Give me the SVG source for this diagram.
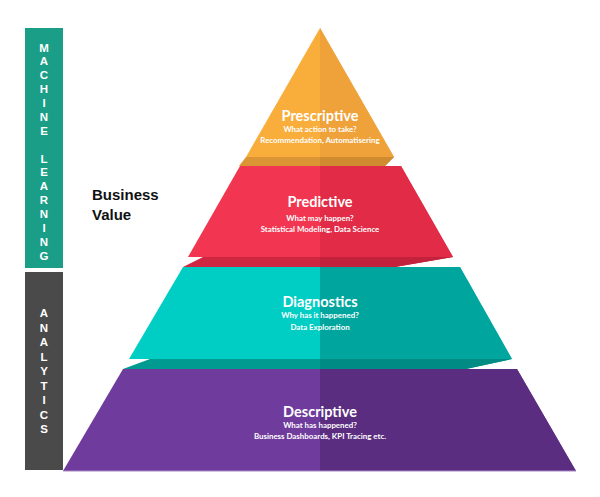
<svg xmlns="http://www.w3.org/2000/svg" width="600" height="497" viewBox="0 0 600 497">
<style>
.title{font-family:"Lato","Liberation Sans",sans-serif;font-weight:700;font-size:14.5px;fill:#fff;text-anchor:middle}
.sub{font-family:"Lato","Liberation Sans",sans-serif;font-weight:700;font-size:7.9px;fill:#fff;text-anchor:middle}
.side{font-family:"Liberation Sans","DejaVu Sans",sans-serif;font-weight:700;font-size:11.5px;fill:#fff;text-anchor:middle}
.bv{font-family:"Liberation Sans","DejaVu Sans",sans-serif;font-weight:700;font-size:15px;fill:#111}
</style>
<defs>
<clipPath id="right"><rect x="320" y="0" width="300" height="497"/></clipPath>
</defs>
<rect width="600" height="497" fill="#fff"/>

<g id="sidebar-ml">
<rect x="25" y="28" width="38" height="240" fill="#1A9E87"/>
<text class="side" x="44" y="51.5">M</text>
<text class="side" x="44" y="65.4">A</text>
<text class="side" x="44" y="79.2">C</text>
<text class="side" x="44" y="93.1">H</text>
<text class="side" x="44" y="107">I</text>
<text class="side" x="44" y="120.9">N</text>
<text class="side" x="44" y="134.7">E</text>
<text class="side" x="44" y="162.5">L</text>
<text class="side" x="44" y="176.3">E</text>
<text class="side" x="44" y="190.2">A</text>
<text class="side" x="44" y="204.1">R</text>
<text class="side" x="44" y="217.9">N</text>
<text class="side" x="44" y="231.8">I</text>
<text class="side" x="44" y="245.7">N</text>
<text class="side" x="44" y="259.5">G</text>
</g>

<g id="sidebar-analytics">
<rect x="25" y="272" width="38" height="198" fill="#4A4A4A"/>
<text class="side" x="44" y="317.3">A</text>
<text class="side" x="44" y="331.8">N</text>
<text class="side" x="44" y="346.3">A</text>
<text class="side" x="44" y="360.8">L</text>
<text class="side" x="44" y="375.3">Y</text>
<text class="side" x="44" y="389.8">T</text>
<text class="side" x="44" y="404.3">I</text>
<text class="side" x="44" y="418.8">C</text>
<text class="side" x="44" y="433.3">S</text>
</g>

<g id="business-value">
<text class="bv" x="92" y="200">Business</text>
<text class="bv" x="92" y="220">Value</text>
</g>

<g id="descriptive">
<polygon points="123,369 517,369 576,471 63,471" fill="#6F3B9C"/>
<polygon points="123,369 517,369 576,471 63,471" fill="#5B2D80" clip-path="url(#right)"/>
<line x1="63" y1="471" x2="576" y2="471" stroke="#A88BC6" stroke-width="1"/>
<text class="title" x="320" y="417">Descriptive</text>
<text class="sub" x="320" y="428">What has happened?</text>
<text class="sub" x="320" y="439">Business Dashboards, KPI Tracing etc.</text>
</g>

<g id="diagnostics">
<polygon points="183,267 460,267 512,359 129,359" fill="#00CEC4"/>
<polygon points="183,267 460,267 512,359 129,359" fill="#00A69D" clip-path="url(#right)"/>
<polygon points="150,359 512,359 466,369 123,369" fill="#009A91"/>
<polygon points="150,359 512,359 466,369 123,369" fill="#008C84" clip-path="url(#right)"/>
<text class="title" x="320" y="307">Diagnostics</text>
<text class="sub" x="320" y="318">Why has it happened?</text>
<text class="sub" x="320" y="330">Data Exploration</text>
</g>

<g id="predictive">
<polygon points="240,166 401,166 453,257 188,257" fill="#F23550"/>
<polygon points="240,166 401,166 453,257 188,257" fill="#E12B47" clip-path="url(#right)"/>
<polygon points="203,257 453,257 395,267 183,267" fill="#CF2742"/>
<polygon points="203,257 453,257 395,267 183,267" fill="#C2223B" clip-path="url(#right)"/>
<text class="title" x="320" y="207">Predictive</text>
<text class="sub" x="320" y="221">What may happen?</text>
<text class="sub" x="320" y="232">Statistical Modeling, Data Science</text>
</g>

<g id="prescriptive">
<polygon points="320,28 246,157 394,157" fill="#F9AE3C"/>
<polygon points="320,28 246,157 394,157" fill="#EFA23A" clip-path="url(#right)"/>
<polygon points="246,157 394,157 385,166 239,166" fill="#DC9535"/>
<polygon points="246,157 394,157 385,166 239,166" fill="#D08A30" clip-path="url(#right)"/>
<text class="title" x="320" y="121">Prescriptive</text>
<text class="sub" x="320" y="131.5">What action to take?</text>
<text class="sub" x="320" y="142.5">Recommendation, Automatisering</text>
</g>

<g id="connectors"></g>
</svg>
